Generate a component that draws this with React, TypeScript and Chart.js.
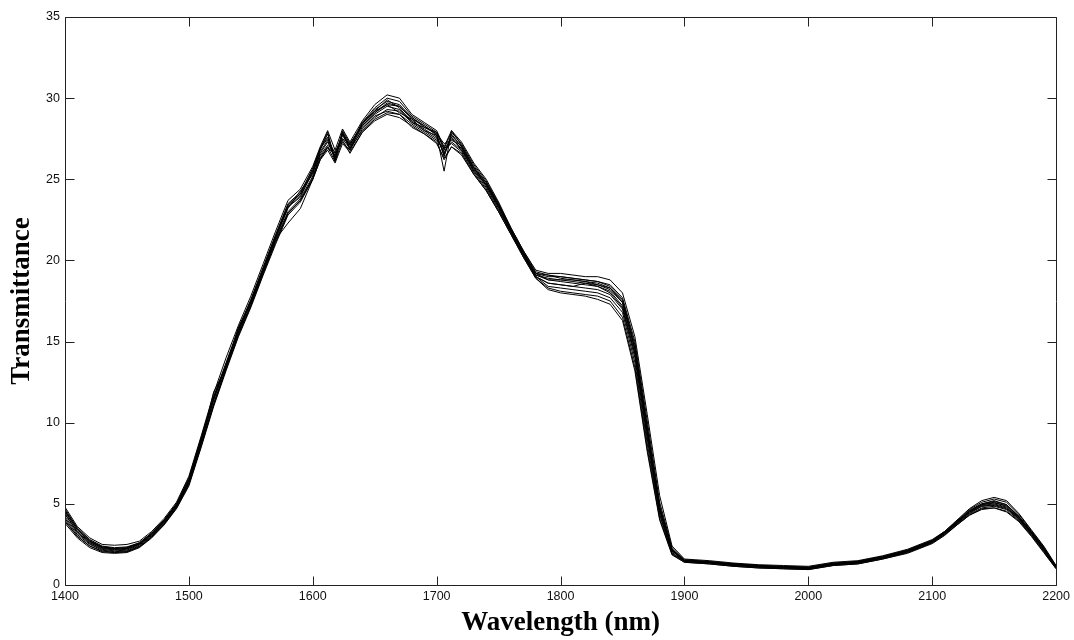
import React, { useEffect, useRef } from "react";
import { Chart, registerables } from "chart.js";

Chart.register(...registerables);

// Wavelength grid (nm)
const wavelengths = [
  1400, 1410, 1420, 1430, 1440, 1450, 1460, 1470, 1480, 1490,
  1500, 1510, 1520, 1530, 1540, 1550, 1560, 1570, 1580, 1590,
  1600, 1606, 1612, 1618, 1624, 1630, 1640, 1650, 1660, 1670,
  1680, 1690, 1700, 1706, 1712, 1720, 1730, 1740, 1750, 1760,
  1770, 1780, 1790, 1800, 1810, 1820, 1830, 1840, 1850, 1860,
  1870, 1880, 1890, 1900, 1920, 1940, 1960, 1980, 2000, 2020,
  2040, 2060, 2080, 2100, 2110, 2120, 2130, 2140, 2150, 2160,
  2170, 2180, 2190, 2200,
];

const spectrumA = [
  4.8, 3.6, 2.9, 2.5, 2.45, 2.5, 2.7, 3.3, 4.1, 5.1,
  6.7, 9.2, 11.8, 14.0, 16.0, 17.8, 19.8, 21.8, 23.7, 24.4,
  25.8, 27.0, 28.0, 26.8, 28.1, 27.3, 28.6, 29.6, 30.2, 30.0,
  29.0, 28.5, 28.0, 27.0, 28.0, 27.3, 26.0, 25.0, 23.6, 22.0,
  20.6, 19.4, 19.2, 19.2, 19.1, 19.0, 19.0, 18.8, 18.0, 15.3,
  10.5, 5.5, 2.4, 1.6, 1.5, 1.35, 1.25, 1.2, 1.15, 1.4,
  1.5, 1.8, 2.2, 2.8, 3.3, 4.0, 4.7, 5.2, 5.4, 5.2,
  4.4, 3.4, 2.4, 1.2,
];
const spectrumB = [
  3.8, 2.9, 2.3, 2.0, 1.95, 2.0, 2.3, 2.9, 3.7, 4.7,
  6.1, 8.5, 11.0, 13.2, 15.3, 17.1, 19.1, 21.0, 22.8, 23.6,
  25.0, 26.2, 26.8, 26.0, 27.2, 26.7, 27.9, 28.6, 29.0, 28.8,
  28.3, 27.8, 27.3, 26.2, 27.0, 26.6, 25.3, 24.3, 23.0, 21.6,
  20.2, 18.9, 18.3, 18.1, 18.0, 17.9, 17.8, 17.5, 16.5, 13.4,
  8.4, 4.1, 1.9, 1.4, 1.3, 1.15, 1.05, 1.0, 0.95, 1.2,
  1.3, 1.6, 2.0, 2.6, 3.1, 3.7, 4.3, 4.7, 4.75, 4.5,
  3.9, 3.0, 2.0, 1.0,
];
const spectrumC = [
  4.5, 3.4, 2.7, 2.3, 2.2, 2.25, 2.55, 3.2, 4.0, 5.0,
  6.5, 9.0, 11.5, 13.6, 15.7, 17.5, 19.5, 21.5, 23.4, 24.1,
  25.5, 26.9, 27.6, 26.3, 27.9, 27.1, 28.4, 29.3, 29.8, 29.6,
  28.8, 28.2, 27.8, 26.4, 27.7, 27.0, 25.7, 24.7, 23.4, 21.9,
  20.5, 19.2, 19.0, 19.0, 18.9, 18.8, 18.7, 18.4, 17.6, 14.8,
  9.8, 4.9, 2.2, 1.55, 1.45, 1.3, 1.2, 1.15, 1.1, 1.35,
  1.45, 1.75, 2.15, 2.75, 3.25, 3.9, 4.6, 5.0, 5.2, 4.95,
  4.25, 3.3, 2.3, 1.15,
];
const spectrumD = [
  4.1, 3.1, 2.5, 2.15, 2.05, 2.1, 2.4, 3.0, 3.8, 4.8,
  6.3, 8.7, 11.2, 13.4, 15.5, 17.3, 19.3, 21.3, 23.0, 23.8,
  25.2, 26.4, 27.0, 26.5, 27.5, 26.9, 28.0, 28.8, 29.3, 29.2,
  28.5, 28.0, 27.5, 26.7, 27.3, 26.8, 25.5, 24.5, 23.2, 21.7,
  20.3, 19.0, 18.6, 18.5, 18.4, 18.3, 18.2, 17.9, 17.0, 14.0,
  9.0, 4.4, 2.0, 1.45, 1.35, 1.2, 1.1, 1.05, 1.0, 1.25,
  1.35, 1.65, 2.05, 2.65, 3.15, 3.8, 4.4, 4.85, 4.95, 4.75,
  4.05, 3.15, 2.15, 1.1,
];
const spectrumE = [
  4.6, 3.5, 2.8, 2.4, 2.3, 2.35, 2.6, 3.2, 4.0, 5.0,
  6.6, 9.1, 11.6, 13.7, 15.8, 17.6, 19.6, 21.6, 23.5, 24.2,
  25.6, 26.8, 27.8, 26.1, 28.0, 27.2, 28.3, 29.1, 29.7, 29.5,
  28.7, 28.3, 27.7, 25.5, 28.0, 27.1, 25.8, 24.8, 23.5, 21.9,
  20.5, 19.2, 19.1, 18.9, 18.8, 18.7, 18.5, 18.2, 17.4, 14.6,
  9.6, 4.8, 2.2, 1.5, 1.4, 1.3, 1.2, 1.1, 1.05, 1.3,
  1.4, 1.7, 2.1, 2.7, 3.2, 3.85, 4.5, 4.95, 5.1, 4.85,
  4.15, 3.25, 2.25, 1.1,
];
const spectrumF = [
  4.0, 3.0, 2.4, 2.1, 2.0, 2.05, 2.35, 2.95, 3.75, 4.75,
  6.2, 8.6, 11.1, 13.3, 15.4, 17.2, 19.2, 21.2, 22.9, 23.7,
  25.1, 26.3, 26.9, 26.6, 27.3, 26.8, 28.1, 28.9, 29.2, 29.0,
  28.4, 27.9, 27.4, 26.9, 27.2, 26.7, 25.4, 24.4, 23.1, 21.7,
  20.3, 19.0, 18.4, 18.3, 18.2, 18.1, 18.0, 17.7, 16.8, 13.7,
  8.7, 4.3, 1.95, 1.45, 1.35, 1.2, 1.1, 1.05, 1.0, 1.25,
  1.35, 1.65, 2.0, 2.6, 3.1, 3.75, 4.35, 4.75, 4.85, 4.65,
  4.0, 3.1, 2.1, 1.05,
];
const spectrumG = [
  4.4, 3.3, 2.65, 2.3, 2.2, 2.25, 2.5, 3.1, 3.9, 4.9,
  6.4, 8.9, 11.4, 13.5, 15.6, 17.4, 19.4, 21.4, 23.3, 24.0,
  25.4, 26.6, 27.3, 26.4, 27.7, 27.0, 28.2, 29.0, 29.5, 29.3,
  28.6, 28.1, 27.6, 26.6, 27.5, 26.9, 25.6, 24.6, 23.3, 21.8,
  20.4, 19.1, 18.8, 18.7, 18.6, 18.5, 18.4, 18.1, 17.2, 14.3,
  9.3, 4.6, 2.1, 1.5, 1.4, 1.25, 1.15, 1.1, 1.05, 1.3,
  1.4, 1.7, 2.1, 2.7, 3.2, 3.85, 4.5, 4.9, 5.0, 4.8,
  4.1, 3.2, 2.2, 1.1,
];
const spectrumH = [
  4.2, 3.2, 2.55, 2.2, 2.1, 2.15, 2.45, 3.05, 3.85, 4.85,
  6.4, 8.8, 11.9, 13.4, 15.9, 17.4, 19.3, 21.3, 22.3, 23.2,
  25.0, 26.7, 27.4, 26.2, 27.8, 26.9, 28.5, 29.2, 29.9, 29.4,
  28.5, 28.2, 27.9, 26.8, 27.6, 26.8, 25.7, 24.6, 23.3, 21.8,
  20.4, 19.0, 18.6, 18.5, 18.4, 18.6, 18.5, 18.3, 17.5, 14.6,
  9.5, 4.7, 2.1, 1.5, 1.4, 1.25, 1.15, 1.1, 1.05, 1.3,
  1.4, 1.7, 2.05, 2.65, 3.2, 3.8, 4.45, 4.85, 4.9, 4.7,
  4.1, 3.2, 2.2, 1.1,
];
const spectrumI = [
  4.7, 3.5, 2.75, 2.35, 2.25, 2.3, 2.6, 3.2, 4.0, 5.0,
  6.5, 9.0, 11.5, 13.6, 15.7, 17.5, 19.5, 21.5, 23.4, 24.1,
  25.7, 26.9, 27.5, 26.6, 27.8, 27.1, 28.5, 29.4, 30.0, 29.8,
  28.9, 28.4, 27.9, 26.9, 27.9, 27.2, 25.9, 24.9, 23.5, 22.0,
  20.6, 19.3, 19.1, 19.0, 18.9, 18.8, 18.7, 18.5, 17.7, 15.0,
  10.1, 5.1, 2.3, 1.55, 1.45, 1.3, 1.2, 1.15, 1.1, 1.35,
  1.45, 1.75, 2.15, 2.75, 3.3, 3.95, 4.65, 5.1, 5.3, 5.1,
  4.35, 3.35, 2.35, 1.15,
];
const spectrumJ = [
  3.9, 3.0, 2.4, 2.05, 2.0, 2.05, 2.35, 2.95, 3.75, 4.75,
  6.2, 8.6, 11.1, 13.3, 15.4, 17.2, 19.2, 21.1, 22.9, 23.7,
  25.0, 26.2, 27.0, 26.1, 27.4, 26.6, 27.9, 28.7, 29.1, 29.0,
  28.2, 27.8, 27.2, 26.3, 27.0, 26.5, 25.3, 24.3, 23.0, 21.6,
  20.2, 18.9, 18.2, 18.0, 17.9, 17.8, 17.6, 17.3, 16.3, 13.2,
  8.2, 4.0, 1.85, 1.4, 1.3, 1.15, 1.05, 1.0, 0.95, 1.2,
  1.3, 1.6, 1.95, 2.55, 3.05, 3.7, 4.3, 4.65, 4.75, 4.55,
  3.95, 3.05, 2.05, 1.0,
];
const spectrumK = [
  4.35, 3.25, 2.6, 2.25, 2.15, 2.2, 2.5, 3.1, 3.9, 4.9,
  6.3, 8.8, 11.4, 13.6, 15.6, 17.5, 19.4, 21.4, 23.2, 24.3,
  25.3, 26.9, 27.9, 26.2, 27.9, 26.8, 28.4, 29.2, 29.6, 29.1,
  28.7, 28.0, 27.7, 26.5, 27.8, 27.0, 25.5, 24.7, 23.3, 21.8,
  20.4, 19.2, 18.8, 18.8, 18.7, 18.6, 18.4, 18.0, 17.1, 14.2,
  9.2, 4.6, 2.1, 1.5, 1.4, 1.25, 1.15, 1.1, 1.05, 1.3,
  1.4, 1.7, 2.1, 2.7, 3.2, 3.9, 4.55, 4.95, 5.05, 4.9,
  4.2, 3.25, 2.25, 1.1,
];
const spectrumL = [
  4.55, 3.4, 2.7, 2.35, 2.25, 2.3, 2.55, 3.15, 3.95, 4.95,
  6.5, 9.0, 11.6, 13.5, 15.8, 17.5, 19.5, 21.5, 23.3, 23.9,
  25.5, 26.5, 27.1, 26.7, 27.5, 27.2, 28.3, 29.1, 29.6, 29.5,
  28.8, 28.3, 27.8, 27.2, 27.4, 27.1, 25.7, 24.8, 23.4, 21.9,
  20.5, 19.1, 18.9, 18.8, 18.8, 18.7, 18.6, 18.3, 17.4, 14.5,
  9.5, 4.7, 2.15, 1.5, 1.4, 1.3, 1.2, 1.1, 1.05, 1.3,
  1.45, 1.75, 2.1, 2.7, 3.25, 3.9, 4.55, 5.0, 5.15, 4.95,
  4.2, 3.25, 2.25, 1.1,
];

const spectra = [
  spectrumA, spectrumB, spectrumC, spectrumD, spectrumE, spectrumF,
  spectrumG, spectrumH, spectrumI, spectrumJ, spectrumK, spectrumL,
];

const xTicks = [1400, 1500, 1600, 1700, 1800, 1900, 2000, 2100, 2200];
const yTicks = [0, 5, 10, 15, 20, 25, 30, 35];

const TICK_LEN = 9;

const boxPlugin = {
  id: "matlabBox",
  afterDatasetsDraw(chart: any) {
    const { ctx, chartArea } = chart;
    const { left, right, top, bottom } = chartArea;
    const xs = chart.scales.x;
    const ys = chart.scales.y;
    ctx.save();
    ctx.strokeStyle = "#222";
    ctx.lineWidth = 1;
    ctx.beginPath();
    const L = Math.round(left) + 0.5;
    const R = Math.round(right) + 0.5;
    const T = Math.round(top) + 0.5;
    const B = Math.round(bottom) + 0.5;
    ctx.rect(L, T, R - L, B - T);
    xTicks.forEach((v) => {
      const px = Math.round(xs.getPixelForValue(v)) + 0.5;
      ctx.moveTo(px, B);
      ctx.lineTo(px, B - TICK_LEN);
      ctx.moveTo(px, T);
      ctx.lineTo(px, T + TICK_LEN);
    });
    yTicks.forEach((v) => {
      const py = Math.round(ys.getPixelForValue(v)) + 0.5;
      ctx.moveTo(L, py);
      ctx.lineTo(L + TICK_LEN, py);
      ctx.moveTo(R, py);
      ctx.lineTo(R - TICK_LEN, py);
    });
    ctx.stroke();
    ctx.restore();
  },
};

export default function App() {
  const canvasRef = useRef<HTMLCanvasElement | null>(null);

  useEffect(() => {
    const canvas = canvasRef.current;
    if (!canvas) return;
    const datasets = spectra.map((s, k) => ({
      label: `Sample ${k + 1}`,
      data: s.map((v, i) => ({ x: wavelengths[i], y: v })),
      borderColor: "#000",
      borderWidth: 1,
      pointRadius: 0,
      tension: 0,
      fill: false,
    }));
    const tickFont = { family: "Arial, 'Liberation Sans', sans-serif", size: 12.5 };
    const titleFont = { family: "'Times New Roman', 'Liberation Serif', serif", size: 27, weight: "bold" as const };
    const chart = new Chart(canvas, {
      type: "line",
      data: { datasets },
      options: {
        animation: false,
        responsive: false,
        devicePixelRatio: 1,
        layout: { padding: { top: 17, right: 17, left: 0, bottom: 0 } },
        plugins: { legend: { display: false }, tooltip: { enabled: false } },
        scales: {
          x: {
            type: "linear",
            min: 1400,
            max: 2200,
            afterFit: (s: any) => { s.height = 55; },
            afterBuildTicks: (s: any) => { s.ticks = xTicks.map((v) => ({ value: v })); },
            grid: { display: false, drawTicks: false },
            border: { display: false },
            ticks: { font: tickFont, color: "#111", padding: 4, maxRotation: 0, callback: (v: any) => String(v) },
            title: { display: true, text: "Wavelength (nm)", font: titleFont, color: "#000", padding: { top: 0, bottom: 1 } },
          },
          y: {
            type: "linear",
            min: 0,
            max: 35,
            afterFit: (s: any) => { s.width = 65; },
            afterBuildTicks: (s: any) => { s.ticks = yTicks.map((v) => ({ value: v })); },
            grid: { display: false, drawTicks: false },
            border: { display: false },
            ticks: { font: tickFont, color: "#111", padding: 5, callback: (v: any) => String(v) },
            title: { display: true, text: "Transmittance", font: titleFont, color: "#000", padding: { top: 6, bottom: 0 } },
          },
        },
      },
      plugins: [boxPlugin],
    });
    return () => chart.destroy();
  }, []);

  return (
    <div style={{ position: "absolute", left: 0, top: 0, width: 1074, height: 640, background: "#fff" }}>
      <canvas ref={canvasRef} width={1074} height={640} style={{ display: "block" }} />
    </div>
  );
}
